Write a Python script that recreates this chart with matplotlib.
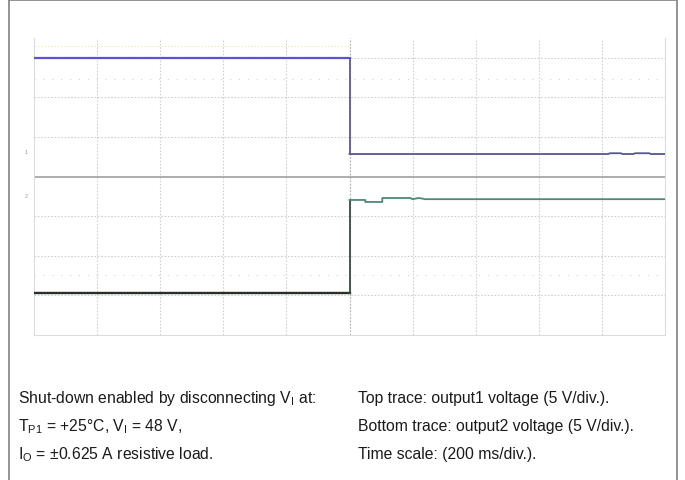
import matplotlib
matplotlib.use("Agg")
import matplotlib.pyplot as plt
from matplotlib.lines import Line2D

plt.rcParams['font.family'] = ['Liberation Sans', 'DejaVu Sans']
plt.rcParams['mathtext.fontset'] = 'custom'
plt.rcParams['mathtext.rm'] = 'Liberation Sans'

# ---- data (time in ms, 200 ms/div; amplitude in divisions) ----
t_out1_high = [0, 1000]
v_out1_high = [7.0, 7.0]
t_out1_drop = [1000, 1000]
v_out1_drop = [7.0, 4.57]
t_out1_low = [1000, 1820, 1825, 1860, 1865, 1900, 1905, 1950, 1955, 2000]
v_out1_low = [4.57, 4.57, 4.59, 4.59, 4.57, 4.57, 4.59, 4.59, 4.57, 4.57]

t_out2_low = [0, 1000]
v_out2_low = [1.06, 1.06]
t_out2_rise = [1000, 1000]
v_out2_rise = [1.06, 3.41]
t_out2_high = [1000, 1050, 1050, 1104, 1104, 1192, 1200, 1220, 1240, 2000]
v_out2_high = [3.41, 3.41, 3.36, 3.36, 3.46, 3.46, 3.43, 3.46, 3.43, 3.43]

left_text = [r"Shut-down enabled by disconnecting $\mathregular{V_I}$ at:",
             r"$\mathregular{T_{P1}}$ = +25°C, $\mathregular{V_I}$ = 48 V,",
             r"$\mathregular{I_O}$ = ±0.625 A resistive load."]
right_text = ["Top trace: output1 voltage (5 V/div.).",
              "Bottom trace: output2 voltage (5 V/div.).",
              "Time scale: (200 ms/div.)."]

W, H = 685, 481
fig = plt.figure(figsize=(W / 100, H / 100), dpi=100)
fig.patch.set_facecolor('white')

# outer frame
for xs, ys in [([9 / W, 9 / W], [0, 1]), ([677 / W, 677 / W], [0, 1]), ([9 / W, 677 / W], [1 - 0.5 / H, 1 - 0.5 / H])]:
    fig.add_artist(Line2D(xs, ys, transform=fig.transFigure, color='#8a8a8a', lw=1.3))

ax_l, ax_r, ax_t, ax_b = 34, 665, 39, 336
ax = fig.add_axes([ax_l / W, 1 - ax_b / H, (ax_r - ax_l) / W, (ax_b - ax_t) / H])
ax.set_xlim(0, 2000)
ax.set_ylim(0, 7.5)
ax.set_xticks([])
ax.set_yticks([])
for s in ax.spines.values():
    s.set_color('#dcdcdc')
    s.set_linewidth(0.8)
ax.spines['top'].set_visible(False)

grid_kw = dict(color='#d0d0d0', lw=0.8, ls=(0, (1.5, 1.5)), zorder=1)
for i in range(1, 10):
    ax.axvline(i * 200, **grid_kw)
for j in range(1, 8):
    if j != 4:
        ax.axhline(j, **grid_kw)
# faint marker rows
for yy in (6.46, 1.52):
    ax.axhline(yy, color='#d4d4d4', lw=0.8, ls=(0, (1, 7)), zorder=1)
ax.axhline(7.3, color='#f2efb0', lw=0.8, ls=(0, (1.5, 1.5)), xmax=0.5, zorder=1)
# center horizontal line
ax.axhline(4, color='#a0a0a0', lw=1.2, zorder=2)
ax.axvline(1000, color='#b8b8b8', lw=0.8, ls=(0, (1.5, 1.5)), zorder=1)

# traces
ax.plot(t_out1_high, v_out1_high, color='#5c52d6', lw=1.6, zorder=4)
ax.plot(t_out1_drop, v_out1_drop, color='#5d5a8c', lw=1.3, zorder=4)
ax.plot(t_out1_low, v_out1_low, color='#56588a', lw=1.3, zorder=4)
ax.plot(t_out2_low, v_out2_low, color='#243028', lw=1.7, zorder=4)
ax.plot(t_out2_rise, v_out2_rise, color='#3a4a42', lw=1.3, zorder=4)
ax.plot(t_out2_high, v_out2_high, color='#4e8a73', lw=1.3, zorder=4)

# channel markers
fig.text(26 / W, 1 - 152 / H, '1', fontsize=4, color='#999999', ha='center', va='center')
fig.text(26 / W, 1 - 197 / H, '2', fontsize=4, color='#999999', ha='center', va='center')

# caption text
ys = [398, 427, 455]
for y, lt, rt in zip(ys, left_text, right_text):
    fig.text(18 / W, 1 - y / H, lt, fontsize=11.3, color='#1a1a1a', va='center', ha='left')
    fig.text(358 / W, 1 - y / H, rt, fontsize=11.3, color='#1a1a1a', va='center', ha='left')

fig.savefig('out.png', dpi=100, facecolor='white')
